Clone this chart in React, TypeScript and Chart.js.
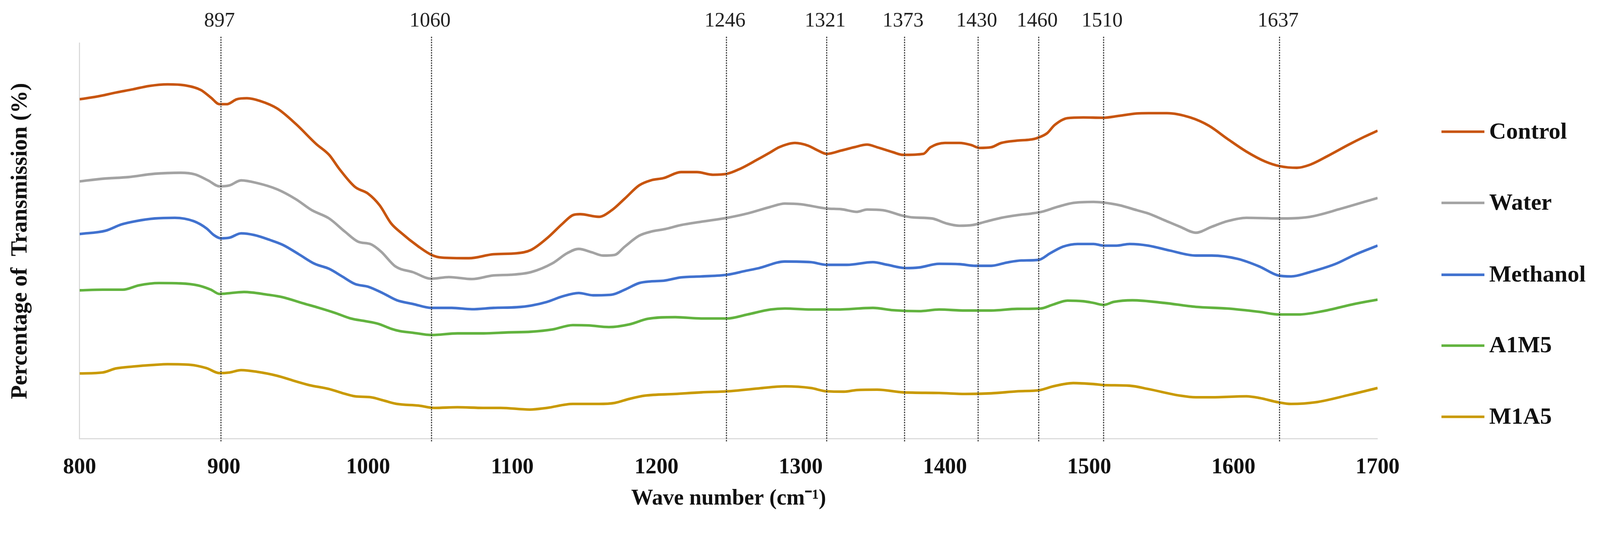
import React, { useEffect, useRef } from "react";
import { Chart, registerables } from "chart.js";

Chart.register(...registerables);

// ---- Data ----
const seriesNames = ["Control", "Water", "Methanol", "A1M5", "M1A5"];

const controlX = [800, 812, 825, 837, 848, 861, 873, 884, 891, 897, 902, 909, 916, 925, 937, 950, 964, 973, 980, 991, 1000, 1008, 1016, 1022, 1035, 1044, 1051, 1070, 1087, 1103, 1113, 1124, 1135, 1142, 1147, 1160, 1169, 1178, 1188, 1196, 1205, 1217, 1228, 1239, 1249, 1258, 1270, 1279, 1285, 1296, 1305, 1312, 1318, 1328, 1337, 1346, 1353, 1364, 1371, 1385, 1390, 1400, 1410, 1418, 1424, 1432, 1439, 1450, 1459, 1464, 1471, 1476, 1485, 1496, 1509, 1521, 1533, 1541, 1554, 1570, 1583, 1596, 1609, 1622, 1632, 1644, 1653, 1666, 1680, 1691, 1700];
const controlY = [102.5, 103.3, 104.5, 105.5, 106.5, 107.0, 106.7, 105.3, 103.0, 101.0, 101.0, 102.5, 102.8, 102.0, 99.7, 95.0, 89.0, 85.7, 81.5, 76.0, 74.0, 70.5, 65.0, 62.5, 58.0, 55.5, 54.7, 54.5, 55.7, 56.0, 57.0, 60.5, 65.0, 67.5, 67.8, 67.0, 69.0, 72.5, 76.5, 78.0, 78.7, 80.5, 80.5, 79.7, 80.0, 81.5, 84.3, 86.5, 88.0, 89.3, 88.5, 87.0, 86.0, 87.0, 88.0, 88.8, 88.0, 86.5, 85.7, 86.0, 88.0, 89.3, 89.3, 88.7, 87.8, 88.0, 89.3, 90.0, 90.3, 90.8, 92.3, 94.7, 96.8, 97.0, 96.9, 97.5, 98.2, 98.3, 98.3, 97.0, 94.5, 90.5, 86.7, 83.7, 82.3, 81.8, 82.7, 85.5, 88.8, 91.2, 93.0];

const waterX = [800, 816, 834, 852, 870, 880, 889, 897, 904, 912, 923, 937, 950, 961, 973, 984, 993, 1002, 1009, 1019, 1031, 1044, 1056, 1072, 1087, 1099, 1113, 1128, 1138, 1146, 1155, 1163, 1171, 1178, 1188, 1196, 1206, 1217, 1231, 1249, 1263, 1279, 1289, 1300, 1318, 1328, 1339, 1346, 1357, 1371, 1378, 1391, 1401, 1410, 1419, 1428, 1439, 1450, 1460, 1467, 1478, 1489, 1503, 1510, 1521, 1533, 1541, 1552, 1563, 1574, 1585, 1596, 1609, 1631, 1653, 1675, 1700];
const waterY = [77.7, 78.5, 79.0, 80.0, 80.3, 79.8, 78.0, 76.2, 76.5, 78.0, 77.2, 75.3, 72.3, 69.0, 66.5, 62.5, 59.5, 58.7, 56.5, 52.0, 50.3, 48.3, 48.8, 48.2, 49.3, 49.5, 50.3, 53.0, 56.0, 57.3, 56.3, 55.3, 55.5, 58.0, 61.3, 62.5, 63.3, 64.5, 65.5, 66.7, 68.0, 70.0, 71.0, 70.8, 69.5, 69.3, 68.5, 69.2, 69.0, 67.3, 66.8, 66.5, 65.0, 64.3, 64.5, 65.5, 66.7, 67.5, 68.0, 68.5, 70.0, 71.2, 71.5, 71.3, 70.5, 69.0, 68.0, 66.0, 64.0, 62.2, 64.0, 65.7, 66.7, 66.5, 67.0, 69.5, 72.7];

const methanolX = [800, 818, 829, 839, 852, 866, 879, 888, 893, 898, 904, 912, 921, 932, 941, 952, 963, 973, 982, 991, 1000, 1010, 1020, 1031, 1044, 1058, 1072, 1087, 1103, 1113, 1124, 1135, 1146, 1156, 1169, 1178, 1188, 1196, 1205, 1217, 1231, 1249, 1262, 1271, 1289, 1307, 1318, 1332, 1350, 1360, 1373, 1382, 1396, 1410, 1421, 1432, 1443, 1453, 1465, 1473, 1482, 1492, 1503, 1510, 1519, 1528, 1541, 1556, 1574, 1585, 1603, 1618, 1631, 1640, 1653, 1671, 1684, 1700];
const methanolY = [61.8, 62.8, 64.7, 65.7, 66.5, 66.7, 65.7, 63.5, 61.5, 60.5, 60.7, 62.0, 61.5, 60.0, 58.5, 55.7, 52.8, 51.3, 49.0, 46.7, 45.9, 44.0, 41.8, 40.7, 39.5, 39.5, 39.1, 39.5, 39.7, 40.2, 41.3, 43.0, 44.0, 43.3, 43.5, 45.0, 47.0, 47.5, 47.7, 48.7, 49.0, 49.5, 50.7, 51.5, 53.5, 53.3, 52.5, 52.5, 53.3, 52.5, 51.5, 51.7, 52.8, 52.7, 52.2, 52.2, 53.2, 53.8, 54.0, 56.0, 58.0, 58.8, 58.8, 58.3, 58.3, 58.8, 58.3, 56.8, 55.3, 55.3, 54.3, 52.0, 49.3, 49.0, 50.3, 52.8, 55.5, 58.3];

const a1m5X = [800, 816, 830, 841, 855, 870, 882, 891, 897, 905, 914, 930, 941, 954, 966, 977, 988, 998, 1007, 1016, 1022, 1031, 1044, 1062, 1080, 1097, 1113, 1128, 1142, 1153, 1167, 1181, 1194, 1213, 1231, 1249, 1263, 1279, 1289, 1307, 1325, 1350, 1364, 1382, 1396, 1414, 1432, 1450, 1466, 1475, 1485, 1496, 1503, 1510, 1517, 1530, 1552, 1574, 1596, 1618, 1632, 1645, 1662, 1684, 1700];
const a1m5Y = [44.8, 45.0, 45.0, 46.3, 47.0, 46.9, 46.3, 45.0, 43.7, 44.0, 44.3, 43.5, 42.7, 41.0, 39.5, 38.0, 36.3, 35.5, 34.7, 33.2, 32.5, 32.0, 31.3, 31.8, 31.8, 32.1, 32.3, 33.0, 34.3, 34.2, 33.7, 34.5, 36.2, 36.7, 36.3, 36.3, 37.5, 39.0, 39.3, 39.0, 39.0, 39.5, 38.8, 38.5, 39.0, 38.7, 38.7, 39.2, 39.3, 40.5, 41.7, 41.5, 41.0, 40.4, 41.3, 41.8, 41.0, 39.8, 39.3, 38.3, 37.5, 37.5, 38.5, 40.7, 42.0];

const m1a5X = [800, 816, 825, 837, 852, 861, 877, 888, 897, 904, 912, 923, 937, 950, 959, 973, 982, 991, 1002, 1011, 1020, 1035, 1046, 1062, 1080, 1092, 1112, 1124, 1142, 1160, 1171, 1181, 1192, 1213, 1231, 1249, 1271, 1289, 1307, 1318, 1330, 1339, 1353, 1371, 1396, 1414, 1432, 1450, 1466, 1475, 1489, 1503, 1510, 1528, 1541, 1563, 1574, 1585, 1609, 1618, 1631, 1640, 1657, 1680, 1700];
const m1a5Y = [19.7, 20.0, 21.2, 21.8, 22.3, 22.5, 22.3, 21.3, 19.8, 20.0, 20.7, 20.2, 19.0, 17.3, 16.2, 15.0, 13.8, 12.8, 12.5, 11.5, 10.5, 10.0, 9.3, 9.5, 9.3, 9.3, 8.8, 9.3, 10.5, 10.5, 10.8, 12.0, 13.0, 13.5, 14.0, 14.3, 15.2, 15.8, 15.3, 14.3, 14.2, 14.7, 14.8, 14.0, 13.8, 13.5, 13.7, 14.3, 14.7, 15.8, 16.8, 16.5, 16.2, 16.0, 15.0, 13.0, 12.5, 12.5, 12.8, 12.3, 11.0, 10.5, 11.0, 13.2, 15.3];

// Marked peaks: label text and where the dotted line is drawn on the axis
const peakLabels = ["897", "1060", "1246", "1321", "1373", "1430", "1460", "1510", "1637"];
const peakPositions = [898, 1044, 1248.5, 1318, 1372, 1423, 1465, 1510, 1632];

const xTicks = [800, 900, 1000, 1100, 1200, 1300, 1400, 1500, 1600, 1700];

const colors = ["#C8550F", "#A3A3A3", "#4172CF", "#62B33F", "#C99A00"];

const SERIF = "'Liberation Serif', 'Times New Roman', serif";

export default function App() {
  const ref = useRef<HTMLCanvasElement | null>(null);
  const W = typeof window !== "undefined" ? window.innerWidth : 4360;
  const k = W / 4360;
  const H = Math.round(1416 * k);
  const s = (v: number) => v * k;

  useEffect(() => {
    if (!ref.current) return;

    const peakPlugin = {
      id: "peaks",
      afterDatasetsDraw(chart: any) {
        const { ctx, chartArea, scales } = chart;
        const xs = scales.x;
        ctx.save();
        ctx.strokeStyle = "#3a3a3a";
        ctx.lineWidth = s(3);
        ctx.setLineDash([s(4), s(3)]);
        peakPositions.forEach((p, i) => {
          const px = xs.getPixelForValue(p);
          ctx.beginPath();
          ctx.moveTo(px, s(100));
          ctx.lineTo(px, chartArea.bottom + s(8));
          ctx.stroke();
          ctx.font = `${s(56)}px ${SERIF}`;
          ctx.fillStyle = "#222";
          ctx.textAlign = "center";
          ctx.textBaseline = "middle";
          ctx.fillText(peakLabels[i], px - s(4), s(58));
        });
        ctx.restore();
      },
    };

    const legendPlugin = {
      id: "customLegend",
      afterDraw(chart: any) {
        const { ctx } = chart;
        const ys = [359, 553, 749, 942, 1136];
        ctx.save();
        seriesNames.forEach((name, i) => {
          ctx.strokeStyle = colors[i];
          ctx.lineWidth = s(7);
          ctx.setLineDash([]);
          ctx.beginPath();
          ctx.moveTo(s(3928), s(ys[i]));
          ctx.lineTo(s(4045), s(ys[i]));
          ctx.stroke();
          ctx.font = `bold ${s(64)}px ${SERIF}`;
          ctx.fillStyle = "#111";
          ctx.textAlign = "left";
          ctx.textBaseline = "middle";
          ctx.fillText(name, s(4058), s(ys[i] + 2));
        });
        ctx.translate(s(56), s(657));
        ctx.rotate(-Math.PI / 2);
        ctx.font = `bold ${s(62)}px ${SERIF}`;
        ctx.fillStyle = "#111";
        ctx.textAlign = "center";
        ctx.textBaseline = "middle";
        ctx.fillText("Percentage of  Transmission (%)", 0, 0);
        ctx.restore();
      },
    };

    const xsArr = [controlX, waterX, methanolX, a1m5X, m1a5X];
    const ysArr = [controlY, waterY, methanolY, a1m5Y, m1a5Y];
    const chart = new Chart(ref.current, {
      type: "line",
      data: {
        datasets: seriesNames.map((name, i) => ({
          label: name,
          data: xsArr[i].map((x, j) => ({ x, y: ysArr[i][j] })),
          borderColor: colors[i],
          backgroundColor: colors[i],
          borderWidth: s(7),
          pointRadius: 0,
          tension: 0.4,
          cubicInterpolationMode: "monotone" as const,
          fill: false,
        })),
      },
      options: {
        animation: false,
        responsive: false,
        layout: { padding: { left: s(217), right: s(606), top: s(117), bottom: s(20) } },
        plugins: { legend: { display: false }, tooltip: { enabled: false } },
        scales: {
          x: {
            type: "linear",
            min: 800,
            max: 1700,
            afterBuildTicks: (axis: any) => {
              axis.ticks = xTicks.map((v) => ({ value: v }));
            },
            afterFit: (axis: any) => {
              axis.height = s(200);
            },
            grid: { display: false, drawTicks: false },
            border: { display: true, color: "#D9D9D9", width: s(3) },
            ticks: {
              padding: s(43),
              color: "#111",
              font: { family: SERIF, size: s(60), weight: "bold" },
              maxRotation: 0,
              callback: (v: any) => String(v),
            },
            title: {
              display: true,
              text: "Wave number (cm⁻¹)",
              color: "#111",
              font: { family: SERIF, size: s(60), weight: "bold" },
              padding: { top: s(11), bottom: 0 },
            },
          },
          y: {
            min: 0,
            max: 119.5,
            grid: { display: false, drawTicks: false },
            border: { display: true, color: "#D9D9D9", width: s(3) },
            ticks: { display: false },
          },
        },
      },
      plugins: [peakPlugin, legendPlugin],
    });
    return () => chart.destroy();
  }, []);

  return (
    <div style={{ position: "absolute", left: 0, top: 0, width: W, height: H, background: "#fff" }}>
      <canvas ref={ref} style={{ width: W, height: H, display: "block" }} width={W} height={H} />
    </div>
  );
}
